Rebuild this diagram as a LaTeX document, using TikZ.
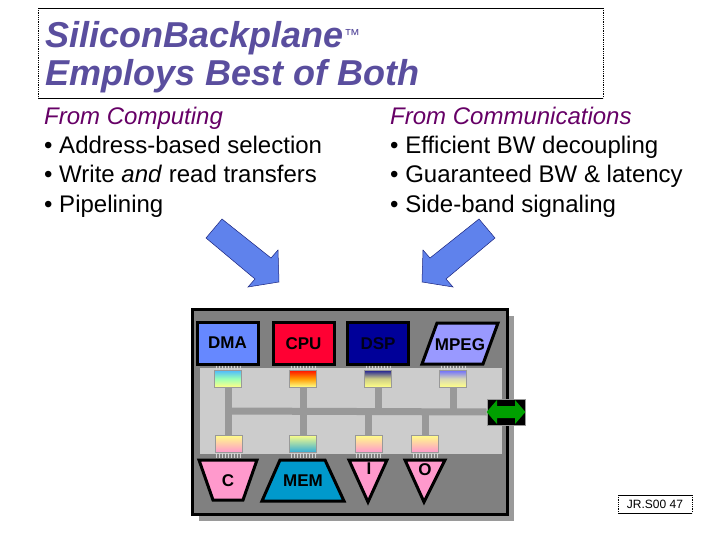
\documentclass[tikz,border=0pt]{standalone}
\usepackage{fontspec}
\setmainfont{Liberation Sans}
\definecolor{titlec}{HTML}{5A4E9E}
\definecolor{headc}{HTML}{660066}
\definecolor{arrc}{HTML}{5F82EC}
\definecolor{arrd}{HTML}{1A237E}
\definecolor{panelc}{HTML}{808080}
\definecolor{shadc}{HTML}{9A9A9A}
\definecolor{bandc}{HTML}{CCCCCC}
\definecolor{busc}{HTML}{999999}
\definecolor{dmac}{HTML}{6688FF}
\definecolor{cpuc}{HTML}{FF0033}
\definecolor{dspc}{HTML}{000099}
\definecolor{mpegc}{HTML}{9999FF}
\definecolor{pinkc}{HTML}{FF99CC}
\definecolor{memc}{HTML}{0099CC}
\definecolor{greenc}{HTML}{00A000}
\definecolor{yelc}{HTML}{FFFF88}
\begin{document}
\begin{tikzpicture}[x=1pt,y=-1pt,
  titletxt/.style={text=titlec,font=\fontsize{36}{40}\selectfont\bfseries\itshape,anchor=base west,inner sep=0},
  bodytxt/.style={font=\fontsize{24}{28}\selectfont,anchor=base west,inner sep=0},
  headtxt/.style={text=headc,font=\fontsize{24}{28}\selectfont\itshape,anchor=base west,inner sep=0},
  modbox/.style={draw=black,line width=3pt,minimum width=61pt,minimum height=42pt,inner sep=0,font=\fontsize{17}{18}\selectfont\bfseries},
  modshape/.style={draw=black,line width=3pt,line join=miter},
  modlab/.style={inner sep=0,font=\fontsize{17}{18}\selectfont\bfseries},
  port/.style={draw=busc,line width=0.5pt,minimum width=27pt,minimum height=17pt,inner sep=0},
  bus/.style={draw=busc,line width=7pt},
  pin/.style={draw=gray!35,line width=0.6pt},
  bigarrow/.style={fill=arrc,draw=arrd,line width=0.5pt,line join=miter}]
\useasboundingbox (0,0) rectangle (720,540);

% title box
\draw[line width=0.7pt] (38,8) -- (603,8) (38,98) -- (603,98);
\draw[line width=0.8pt,densely dotted] (38,8) -- (38,98) (603,8) -- (603,98);
\node[titletxt] (t1) at (45,48) {SiliconBackplane};
\node[inner sep=0,anchor=base west,text=titlec,font=\fontsize{16}{17}\selectfont] (tm) at (344,41) {™};
\node[titletxt] (t2) at (45,86) {Employs Best of Both};

% left column
\node[headtxt] (lc) at (44,125) {From Computing};
\node[bodytxt] (l1) at (44,154) {• Address-based selection};
\node[bodytxt] (l2) at (44,183) {• Write \textit{and} read transfers};
\node[bodytxt] (l3) at (44,212) {• Pipelining};
% right column
\node[headtxt] (rc) at (390,125) {From Communications};
\node[bodytxt] (r1) at (390,154) {• Efficient BW decoupling};
\node[bodytxt] (r2) at (390,183) {• Guaranteed BW \& latency};
\node[bodytxt] (r3) at (390,212) {• Side-band signaling};

% big arrows
\draw[bigarrow] (206,238) -- (222,219) -- (271,258) -- (278,250) -- (279,282) -- (248,287) -- (255,279) -- cycle;
\draw[bigarrow] (495,238) -- (479,219) -- (430,258) -- (423,250) -- (422,282) -- (453,287) -- (446,279) -- cycle;

% panel
\fill[shadc] (199,316) rectangle (514,521);
\draw[line width=3pt,fill=panelc] (192,309) rectangle (507,514);
\fill[bandc] (200,368) rectangle (502,454);

% top modules
\node[modbox,fill=dmac] (dma) at (227.5,343) {DMA};
\node[modbox,fill=cpuc] (cpu) at (303.5,343.5) {CPU};
\node[modbox,fill=dspc,text=black!90!blue] (dsp) at (378,343.5) {DSP};
\draw[modshape,fill=mpegc] (422,364) -- (437,323) -- (498,323) -- (483,364) -- cycle;
\node[modlab] (mpeg) at (460,345) {MPEG};

% bottom modules
\draw[modshape,fill=pinkc] (199,460) -- (257,460) -- (243,500) -- (213,500) -- cycle;
\node[modlab] (cm) at (228,481) {C};
\draw[modshape,fill=memc] (280,460) -- (325,460) -- (344,501) -- (262,501) -- cycle;
\node[modlab] (mem) at (303,481) {MEM};
\draw[modshape,fill=pinkc] (349,460) -- (387,460) -- (368,502) -- cycle;
\node[modlab] (im) at (369,469) {I};
\draw[modshape,fill=pinkc] (405,460) -- (445,460) -- (424,502) -- cycle;
\node[modlab] (om) at (425,470) {O};

% pins
\foreach \cx in {228,303,378,453} {
  \foreach \i in {0,...,8} { \draw[pin] (\cx-12+3*\i,365.5) -- (\cx-12+3*\i,370); }
}
\foreach \cx in {228,303,368,425} {
  \foreach \i in {0,...,8} { \draw[pin] (\cx-12+3*\i,452) -- (\cx-12+3*\i,457.5); }
}

% external link
\node[fill=black,draw=busc,line width=0.8pt,minimum width=38pt,minimum height=26pt,inner sep=0] (ext) at (506,412) {};

% bus
\coordinate (bw) at (228,411);
\coordinate (bd) at (378,411);
\coordinate (bm) at (453,411);
\coordinate (bi) at (368,411);
\coordinate (bo) at (425,411);
\draw[bus] (bw) -- (ext.west);
\draw[bus] (228,387) -- (228,435);
\draw[bus] (303,387) -- (303,435);
\draw[bus] (378,387) -- (bd);
\draw[bus] (453,387) -- (bm);
\draw[bus] (bi) -- (368,435);
\draw[bus] (bo) -- (425,435);

% ports (top)
\node[port,top color=cyan!60!blue!70,bottom color=yelc,middle color=yelc!60!cyan] (pdma) at (228,378.5) {};
\node[port,top color=red!90!orange,bottom color=yelc,middle color=orange!80!yellow] (pcpu) at (303,378.5) {};
\node[port,top color=dspc!80!gray,bottom color=yelc,middle color=gray!40!yelc] (pdsp) at (378,378.5) {};
\node[port,top color=mpegc!70!blue,bottom color=yelc,middle color=mpegc!40!yelc] (pmpeg) at (453,378.5) {};
% ports (bottom)
\node[port,top color=yelc,bottom color=pinkc] (pc) at (228.5,443.5) {};
\node[port,top color=yelc,bottom color=memc!80] (pmem) at (302.5,443.5) {};
\node[port,top color=yelc,bottom color=pinkc] (pi) at (368.5,443.5) {};
\node[port,top color=yelc,bottom color=pinkc] (po) at (425,443.5) {};

% green double arrow
\fill[greenc] (ext.west) -- (497,400) -- (497,406) -- (515,406) -- (515,400) -- (ext.east) -- (515,424) -- (515,418) -- (497,418) -- (497,424) -- cycle;

% footer
\draw[line width=0.6pt] (618,495) -- (692,495) (618,513) -- (692,513);
\draw[line width=0.8pt,densely dotted] (618,495) -- (618,513) (692,495) -- (692,513);
\node[inner sep=0,font=\fontsize{12}{13}\selectfont] (ft) at (655,504.5) {JR.S00 47};
\end{tikzpicture}
\end{document}
